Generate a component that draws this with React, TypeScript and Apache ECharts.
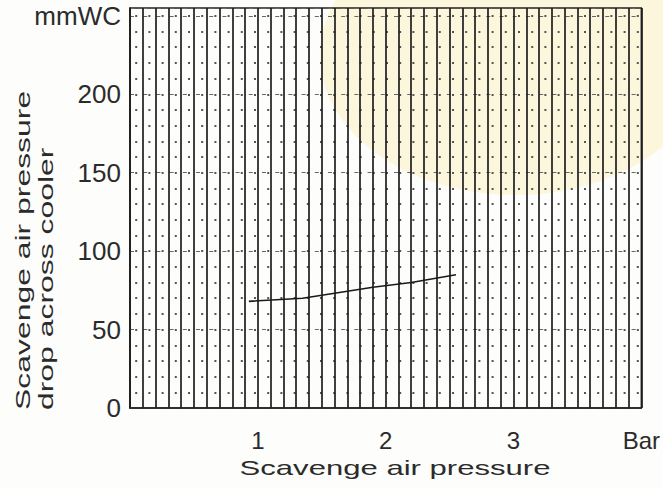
import React, { useEffect, useRef } from "react";
import * as echarts from "echarts";

const xTickLabels: Record<number, string> = { 1: "1", 2: "2", 3: "3", 4: "Bar" };
const yTickLabels: Record<number, string> = { 0: "0", 50: "50", 100: "100", 150: "150", 200: "200", 250: "mmWC" };
const pressureBar = [0.93, 1.35, 1.9, 2.2, 2.55];
const dropMmWC = [68, 70, 77, 80, 85];
const yTitleLines = ["Scavenge air pressure", "drop across cooler"];
const xTitle = "Scavenge air pressure";

const FONT = "'Liberation Sans', Arial, sans-serif";
const INK = "#2b2b2b";

export default function App() {
  const ref = useRef<HTMLDivElement>(null);
  useEffect(() => {
    document.body.style.margin = "0";
    const chart = echarts.init(ref.current!, null, { renderer: "svg" });
    const data = pressureBar.map((x, i) => [x, dropMmWC[i]]);
    chart.setOption({
      animation: false,
      backgroundColor: "#fdfdfb",
      grid: {
        left: 130, right: 5, top: 8, bottom: 80,
        show: true, borderColor: "#222", borderWidth: 1.5,
        backgroundColor: "transparent",
      },
      graphic: [
        {
          type: "ellipse", z: -10,
          shape: { cx: 515, cy: 55, rx: 195, ry: 140 },
          style: { fill: "#fbf6d6", opacity: 0.85 },
        },
        {
          type: "text", x: 23, y: 410, rotation: Math.PI / 2, scaleX: 1.52,
          style: { text: yTitleLines[0], font: `21px ${FONT}`, fill: INK, align: "left", verticalAlign: "middle" },
        },
        {
          type: "text", x: 46, y: 410, rotation: Math.PI / 2, scaleX: 1.52,
          style: { text: yTitleLines[1], font: `21px ${FONT}`, fill: INK, align: "left", verticalAlign: "middle" },
        },
        {
          type: "text", x: 395, y: 468, scaleX: 1.48,
          style: { text: xTitle, font: `21px ${FONT}`, fill: INK, align: "center", verticalAlign: "middle" },
        },
      ],
      xAxis: [
        {
          type: "value", min: 0, max: 4, interval: 0.1,
          axisLine: { show: true, lineStyle: { color: "#222", width: 1.5 } },
          axisTick: { show: false },
          splitLine: { show: true, lineStyle: { color: "#1e1e1e", width: 1.7 } },
          axisLabel: {
            margin: 20, fontSize: 24, color: INK, fontFamily: FONT,
            formatter: (v: number) => {
              const r = Math.round(v * 10) / 10;
              if (Math.abs(r - Math.round(r)) > 1e-6) return "";
              return xTickLabels[Math.round(r)] ?? "";
            },
            align: "center",
          },
        },
      ],
      yAxis: [
        {
          type: "value", min: 0, max: 255, interval: 10,
          axisLine: { show: true, lineStyle: { color: "#222", width: 1.5 } },
          axisTick: { show: false },
          axisLabel: { show: false },
          splitLine: {
            show: true,
            lineStyle: { color: "#555", width: 2, type: [2, 11.2], dashOffset: 7.6 },
          },
        },
        {
          type: "value", min: 0, max: 255, interval: 50, position: "left",
          axisLine: { show: false },
          axisTick: { show: false },
          axisLabel: {
            margin: 9, fontSize: 26, color: INK, fontFamily: FONT,
            formatter: (v: number) => yTickLabels[Math.round(v)] ?? "",
          },
          splitLine: {
            show: true,
            lineStyle: { color: "#666", width: 1.2, type: [4, 9.2], dashOffset: 0 },
          },
        },
      ],
      series: [
        {
          type: "line",
          xAxisIndex: 0,
          yAxisIndex: 0,
          data,
          showSymbol: false,
          symbol: "none",
          lineStyle: { color: "#1a1a1a", width: 1.6 },
          z: 5,
        },
      ],
    });
    return () => chart.dispose();
  }, []);
  return <div ref={ref} style={{ width: 663, height: 488 }} />;
}
